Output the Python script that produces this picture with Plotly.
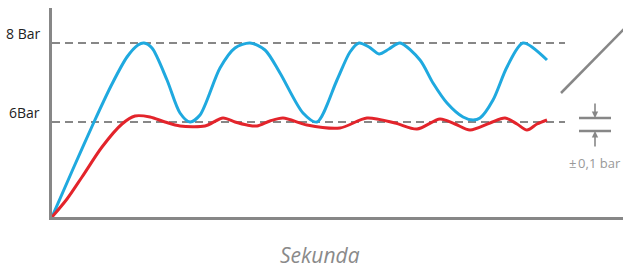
import plotly.graph_objects as go

# Schematic pressure curves (x: time units, y: level units; 8 Bar = 174, 6Bar = 95)
blue_t = [0, 21, 42, 60, 75, 86, 92, 100, 115, 128, 138, 148, 168, 183, 198, 213, 228, 251, 265,
          285, 298, 307, 317, 327, 337, 348, 368, 381, 395, 411, 421, 428, 441, 455, 471, 495]
blue_y = [0, 48, 95, 133, 160, 172, 174, 169, 137, 104, 95, 102, 149, 169, 174, 167, 144, 104, 95,
          137, 165, 174, 170, 163, 168, 174, 157, 134, 114, 100, 97, 99, 117, 150, 174, 157]

red_t = [0, 15, 30, 50, 70, 83, 98, 113, 128, 153, 171, 183, 195, 205, 218, 231, 255, 288, 315, 343,
         365, 388, 403, 418, 438, 453, 465, 475, 485, 495]
red_y = [0, 18, 40, 70, 93, 101, 100, 95, 91, 91, 99, 95, 92, 91, 96, 99, 92, 89, 99, 94,
         88, 98, 93, 87, 94, 99, 93, 87, 93, 97]

level_vals = [174, 95]
level_text = ["8 Bar", "6Bar"]
tol_text = "±\u202f0,1 bar"
x_title = "Sekunda"

GRAY = "#878787"
fig = go.Figure()
fig.add_trace(go.Scatter(x=blue_t, y=blue_y, mode="lines",
                         line=dict(color="#1fa9df", width=3, shape="spline", smoothing=0.8),
                         hoverinfo="skip"))
fig.add_trace(go.Scatter(x=red_t, y=red_y, mode="lines",
                         line=dict(color="#e3242b", width=3, shape="spline", smoothing=0.8),
                         hoverinfo="skip"))

shapes = []
for v in level_vals:
    shapes.append(dict(type="line", x0=0, x1=513, y0=v, y1=v, xref="x", yref="y",
                       line=dict(color=GRAY, width=2, dash="8px,5px"), layer="below"))
# diagonal decoration
shapes.append(dict(type="line", x0=509, y0=124, x1=575, y1=191, xref="x", yref="y",
                   line=dict(color=GRAY, width=2.5)))
# tolerance symbol lines
for v in [99, 86]:
    shapes.append(dict(type="line", x0=527, x1=559, y0=v, y1=v, xref="x", yref="y",
                       line=dict(color=GRAY, width=2.5)))

annotations = []
for v, t in zip(level_vals, level_text):
    annotations.append(dict(x=-0.017, xref="paper", y=v + 10, yref="y", text=t,
                            showarrow=False, xanchor="right", yanchor="middle",
                            font=dict(size=14, color="#222222", family="Open Sans")))
annotations.append(dict(x=543, y=99, ax=543, ay=115, xref="x", yref="y", axref="x", ayref="y",
                        text="", showarrow=True, arrowhead=2, arrowsize=0.8, arrowwidth=1.6,
                        arrowcolor=GRAY))
annotations.append(dict(x=543, y=86, ax=543, ay=69, xref="x", yref="y", axref="x", ayref="y",
                        text="", showarrow=True, arrowhead=2, arrowsize=0.8, arrowwidth=1.6,
                        arrowcolor=GRAY))
annotations.append(dict(x=543, y=54, xref="x", yref="y", text=tol_text, showarrow=False,
                        xanchor="center", yanchor="middle",
                        font=dict(size=13, color="#999999", family="Open Sans")))
annotations.append(dict(x=268 / 571, y=-38 / 209, xref="paper", yref="paper",
                        text="<i>" + x_title + "</i>",
                        showarrow=False, xanchor="center", yanchor="middle",
                        font=dict(size=21, color="#8a8a8a", family="Open Sans")))

fig.update_layout(
    width=623, height=269,
    margin=dict(l=52, r=0, t=8, b=52),
    paper_bgcolor="white", plot_bgcolor="white",
    showlegend=False,
    shapes=shapes, annotations=annotations,
    xaxis=dict(range=[0, 571], showgrid=False, zeroline=False, showticklabels=False,
               ticks="", showline=True, linecolor=GRAY, linewidth=2.5, fixedrange=True),
    yaxis=dict(range=[0, 209], showgrid=False, zeroline=False, showticklabels=False,
               ticks="", showline=True, linecolor=GRAY, linewidth=2.5, fixedrange=True),
)
fig.write_html("out.html", config={"displayModeBar": False},
               post_script="document.body.style.margin='0';document.body.style.overflow='hidden';")
